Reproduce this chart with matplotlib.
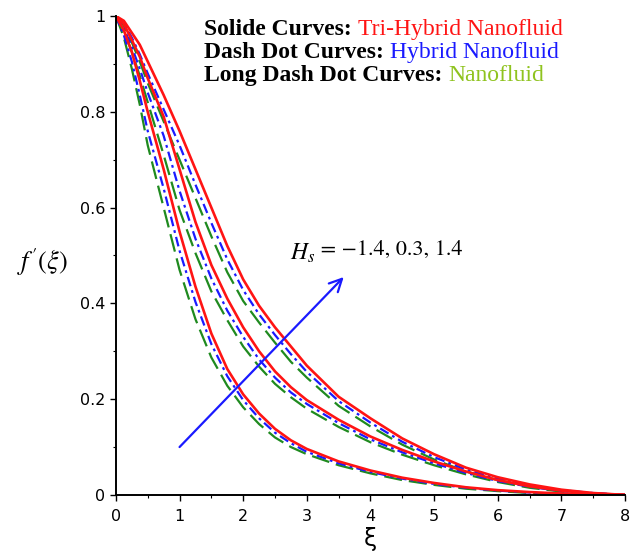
import matplotlib
matplotlib.use("Agg")
import matplotlib.pyplot as plt

# similarity variable
xi = [0, 0.125, 0.25, 0.375, 0.5, 0.75, 1.0, 1.25, 1.5, 1.75, 2.0, 2.25, 2.5, 2.75,
      3.0, 3.5, 4.0, 4.5, 5.0, 5.5, 6.0, 6.5, 7.0, 7.5, 8.0]

hs_label = "−1.4, 0.3, 1.4"

# velocity profiles f'(xi) – tri-hybrid nanofluid
tri_hs_m14 = [1, .97, .925, .865, .80, .68, .55, .435, .337, .263, .21, .17, .138, .114,
              .096, .07, .051, .036, .025, .016, .010, .006, .003, .001, 0]
tri_hs_03 = [1, .983, .95, .915, .87, .79, .68, .57, .48, .41, .35, .30, .258, .225,
             .198, .157, .122, .094, .07, .049, .031, .018, .009, .003, 0]
tri_hs_14 = [1, .99, .965, .94, .905, .835, .76, .68, .60, .52, .45, .395, .35, .31,
             .27, .205, .16, .118, .085, .057, .037, .022, .011, .004, 0]

# hybrid nanofluid
hyb_hs_m14 = [1, .96, .905, .835, .76, .64, .51, .403, .315, .248, .198, .16, .13, .108,
              .09, .066, .048, .034, .023, .015, .009, .005, .002, .001, 0]
hyb_hs_03 = [1, .975, .935, .89, .84, .75, .635, .535, .452, .385, .33, .283, .245, .214,
             .19, .15, .116, .089, .066, .046, .029, .017, .008, .003, 0]
hyb_hs_14 = [1, .985, .955, .92, .88, .805, .73, .648, .568, .492, .428, .377, .334, .294,
             .257, .196, .151, .111, .079, .053, .034, .020, .010, .004, 0]

# mono nanofluid
nf_hs_m14 = [1, .955, .89, .815, .73, .60, .47, .367, .287, .228, .183, .148, .12, .10,
             .085, .062, .045, .031, .021, .013, .008, .004, .002, .001, 0]
nf_hs_03 = [1, .97, .925, .875, .82, .71, .595, .505, .425, .365, .31, .268, .232, .204,
            .18, .142, .11, .084, .062, .043, .027, .015, .007, .002, 0]
nf_hs_14 = [1, .98, .945, .905, .86, .78, .70, .62, .54, .465, .405, .36, .318, .278,
            .245, .186, .143, .105, .074, .049, .031, .018, .009, .003, 0]

x_ticks = [0, 1, 2, 3, 4, 5, 6, 7, 8]
y_ticks = [0, 0.2, 0.4, 0.6, 0.8, 1]
y_tick_labels = ["0", "0.2", "0.4", "0.6", "0.8", "1"]

RED = "#ff1414"
BLUE = "#1a1aff"
GREEN = "#1f8a1f"
LIME = "#8fc31f"

plt.rcParams["lines.scale_dashes"] = False
plt.rcParams["mathtext.fontset"] = "stix"

fig = plt.figure(figsize=(6.3, 5.53), dpi=100)
ax = fig.add_axes([0.184, 0.105, 0.808, 0.866])

for nf in (nf_hs_m14, nf_hs_03, nf_hs_14):
    ax.plot(xi, nf, color=GREEN, lw=1.6, dashes=(13, 5))
for hy in (hyb_hs_m14, hyb_hs_03, hyb_hs_14):
    ax.plot(xi, hy, color=BLUE, lw=1.6, dashes=(7, 3, 2, 3))
for tri in (tri_hs_m14, tri_hs_03, tri_hs_14):
    ax.plot(xi, tri, color=RED, lw=1.9)

ax.set_xlim(0, 8)
ax.set_ylim(0, 1)
ax.set_xticks(x_ticks)
ax.set_yticks(y_ticks)
ax.set_yticklabels(y_tick_labels)
ax.set_xticks([0.5 + i for i in range(8)], minor=True)
ax.set_yticks([0.1, 0.3, 0.5, 0.7, 0.9], minor=True)
ax.tick_params(which="major", direction="out", length=4, width=1,
               labelsize=11.5)
ax.tick_params(axis="x", which="major", pad=6)
ax.tick_params(which="minor", direction="out", length=2.5, width=0.8)
for side in ("top", "right"):
    ax.spines[side].set_visible(False)
for side in ("left", "bottom"):
    ax.spines[side].set_linewidth(1.4)

ax.set_xlabel("ξ", fontsize=17, labelpad=2)
fig.text(0.068, 0.526, r"$f'(\xi)$", fontsize=19, ha="center", va="center")

# parameter arrow
ax.annotate("", xy=(3.58, 0.455), xytext=(1.0, 0.1),
            arrowprops=dict(arrowstyle="->,head_length=0.9,head_width=0.45",
                            color=BLUE, lw=1.6, shrinkA=0, shrinkB=0))
hs_txt = ax.text(2.73, 0.505, r"$H_s$", fontsize=17, ha="left", va="center")
ax.annotate(" = " + hs_label, xy=(1, 0.62), xycoords=hs_txt, ha="left",
            va="center", fontsize=16, family="STIXGeneral")

# curve-type key
legend_rows = [("Solide Curves: ", "Tri-Hybrid Nanofluid", RED),
               ("Dash Dot Curves: ", "Hybrid Nanofluid", BLUE),
               ("Long Dash Dot Curves: ", "Nanofluid", LIME)]
y0 = 0.946
for i, (head, tail, col) in enumerate(legend_rows):
    t = fig.text(0.324, y0 - i * 0.0415, head, fontsize=17, fontweight="bold",
                 family="Liberation Serif", ha="left", va="center")
    ax.annotate(tail, xy=(1, 0.5), xycoords=t, ha="left", va="center",
                fontsize=17, family="Liberation Serif", color=col)

fig.savefig("out.png", dpi=100, facecolor="white")
